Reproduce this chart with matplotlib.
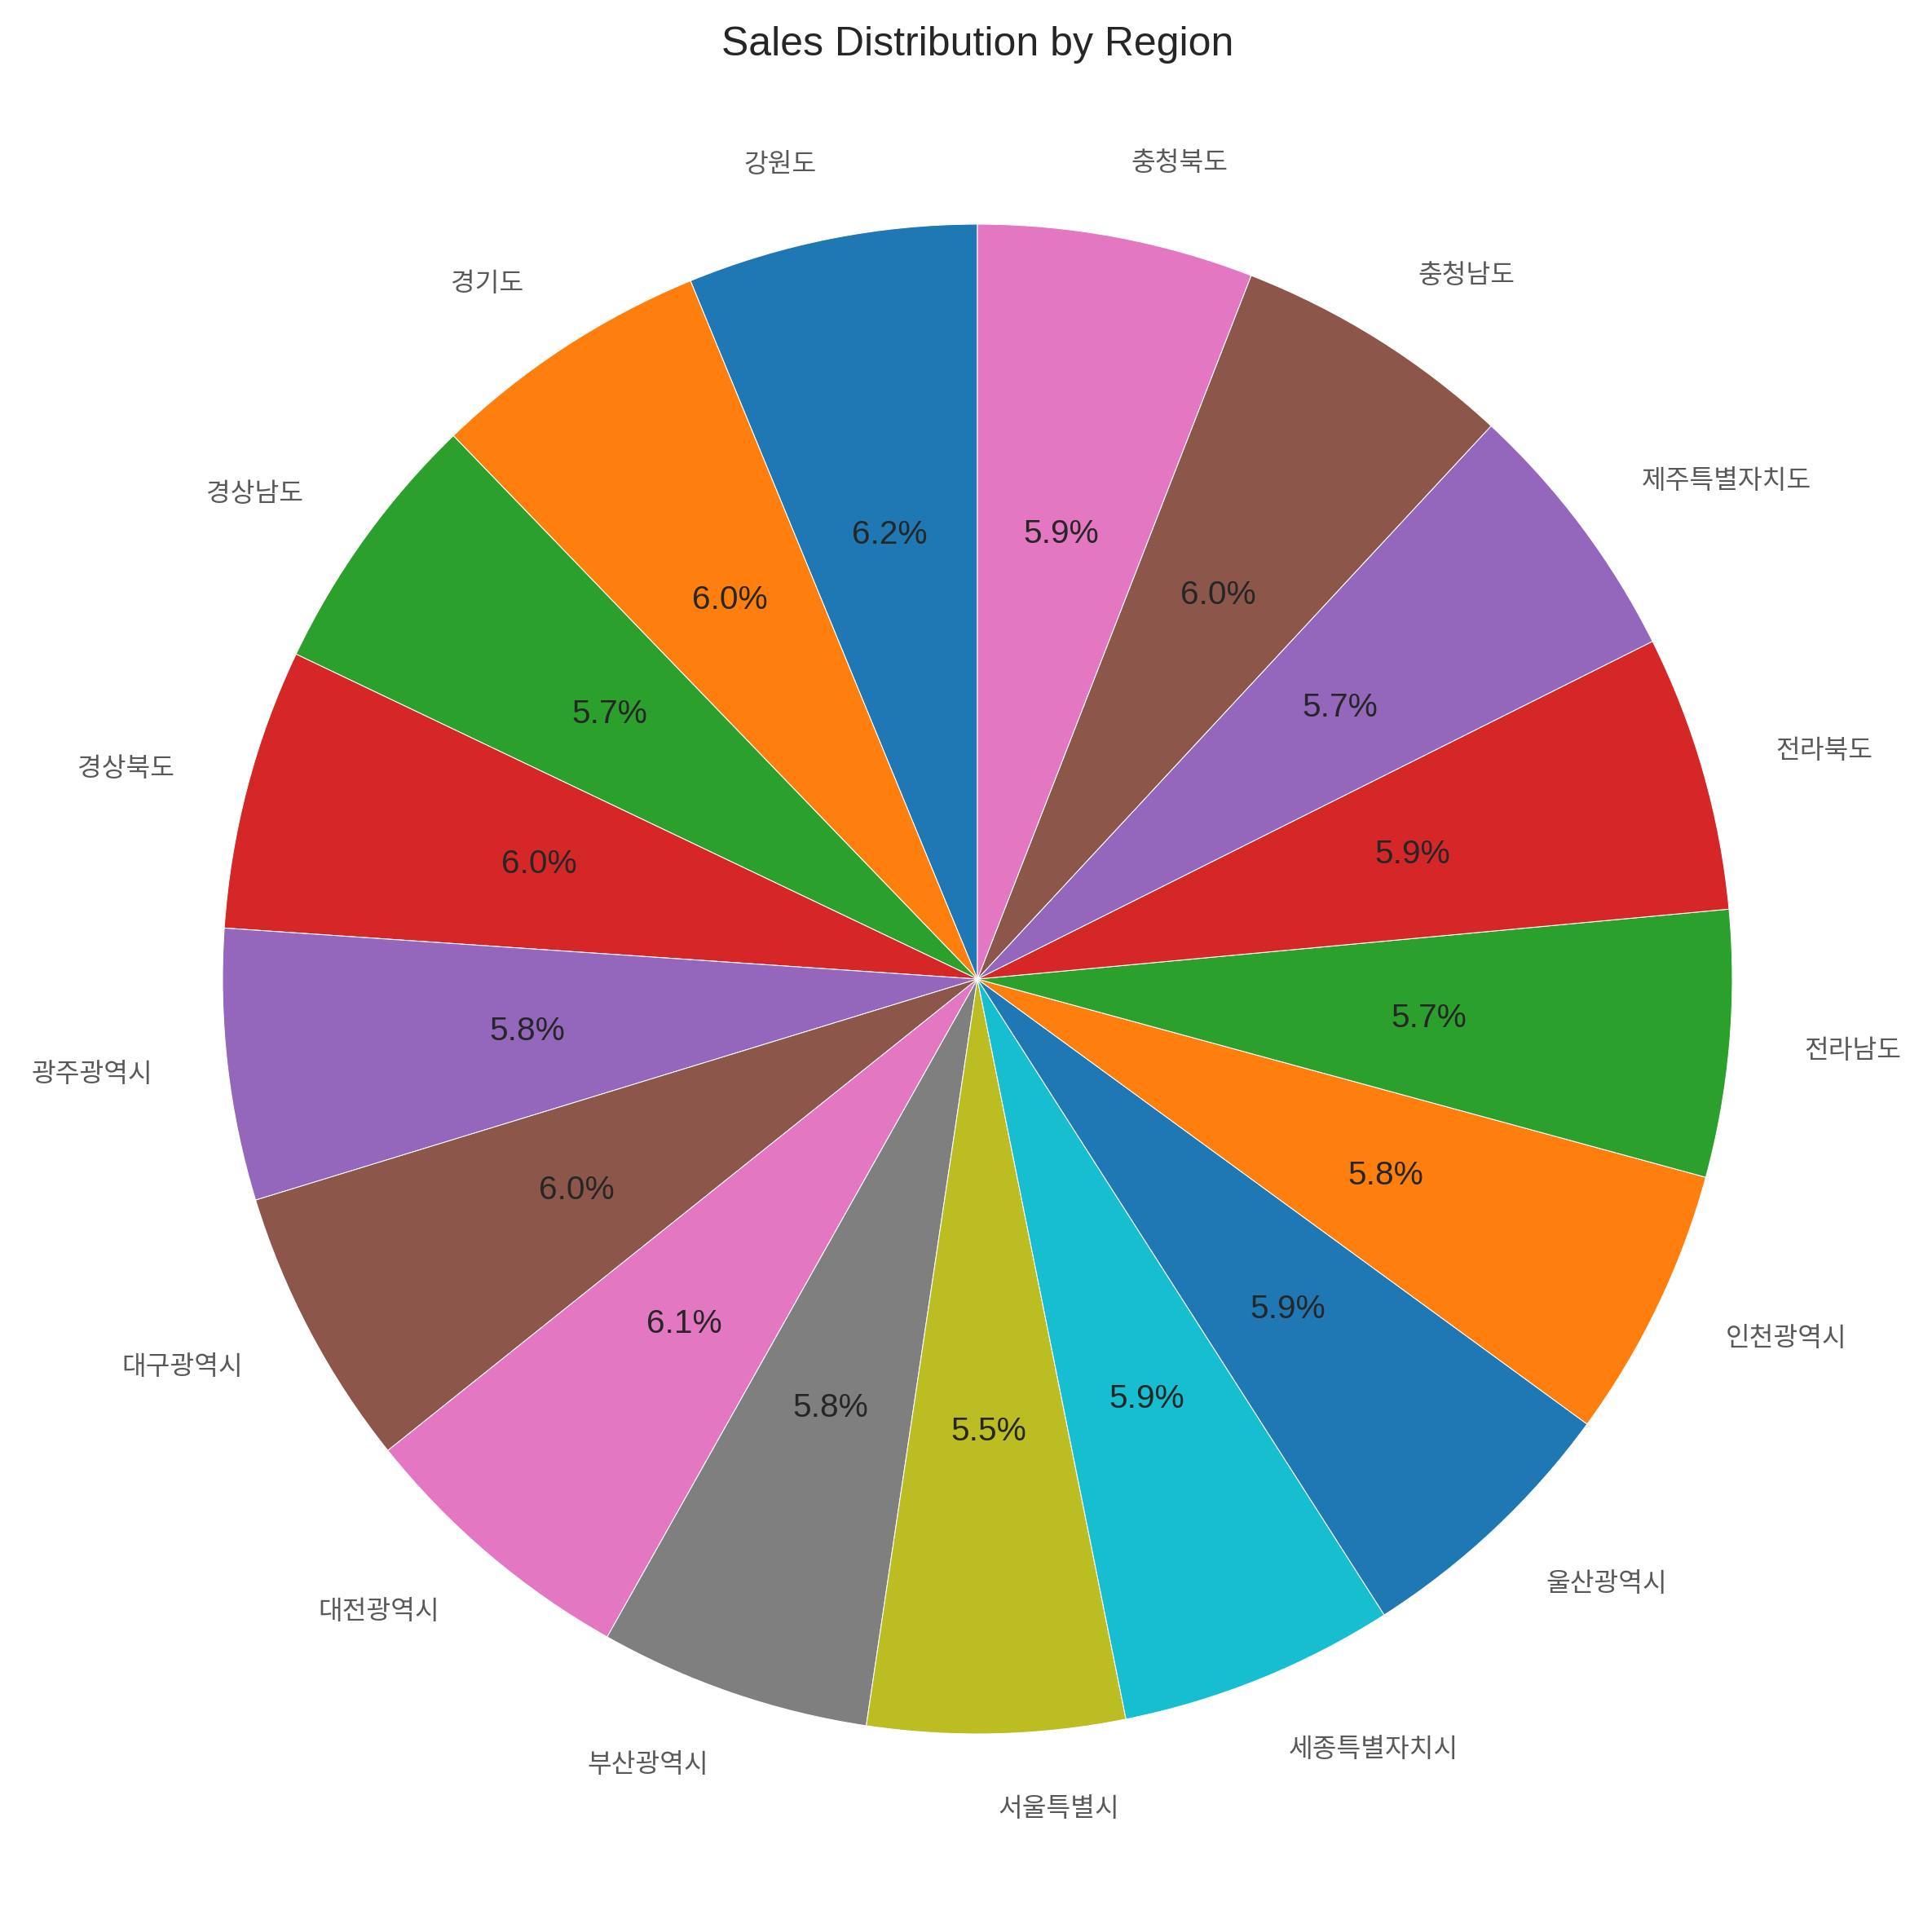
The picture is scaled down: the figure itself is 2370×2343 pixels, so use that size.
import matplotlib.pyplot as plt

plt.rcParams['font.family'] = ['Liberation Sans', 'DejaVu Sans']
plt.rcParams['text.color'] = '#262626'

# regions (Korean alphabetical order) and their sales share
regions = ['강원도', '경기도', '경상남도', '경상북도', '광주광역시', '대구광역시',
           '대전광역시', '부산광역시', '서울특별시', '세종특별자치시', '울산광역시',
           '인천광역시', '전라남도', '전라북도', '제주특별자치도', '충청남도', '충청북도']
sales = [6.2, 6.0, 5.7, 6.0, 5.8, 6.0, 6.1, 5.8, 5.5, 5.9,
         5.9, 5.8, 5.7, 5.9, 5.7, 6.0, 5.9]

W, H, DPI = 2370, 2343, 150
fig = plt.figure(figsize=(W / DPI, H / DPI), dpi=DPI)

# pie centre ~ (1199, 1201) px, radius ~ 926 px
side = 2.5 * 926
ax = fig.add_axes([(1199 - side / 2) / W, (H - 1201 - side / 2) / H, side / W, side / H])

wedges, texts, autotexts = ax.pie(
    sales, labels=regions, autopct='%1.1f%%', startangle=90,
    wedgeprops={'edgecolor': 'white', 'linewidth': 0.5},
    textprops={'fontsize': 19.5, 'color': '#262626'})

for t in texts:
    t.set_fontfamily(['Noto Sans CJK KR', 'DejaVu Sans'])
    t.set_fontsize(15.5)
    t.set_color('#595959')

fig.text(1199 / W, 1 - 68 / H, 'Sales Distribution by Region', ha='center',
         va='baseline', fontsize=24, color='#262626')

fig.savefig('out.png', dpi=DPI)
